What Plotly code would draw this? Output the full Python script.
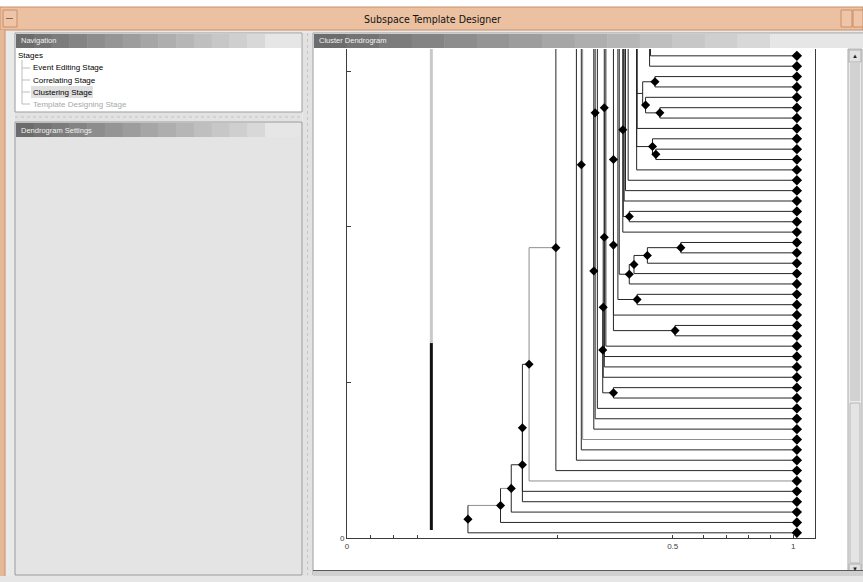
import plotly.graph_objects as go

# ---------------- dendrogram data ----------------
# Leaves sit at y = index + 0.5; indices >= 47 lie above the scrolled viewport.
LEAF_X = 1.008
N_VISIBLE = 47

# (node, child_a, child_b, merge position on the x axis)
merges = [
    ("A", 0, "B", 0.271),
    ("B", 1, "C", 0.344),
    ("C", 2, "D", 0.368),
    ("D", 3, "E", 0.393),
    ("E", 4, "F", 0.393),
    ("F", 5, "G", 0.408),
    ("G", 6, 49, 0.468),
    ("N7", 7, 140, 0.514),
    ("N8", 8, 63, 0.525),
    ("N9", 9, 138, 0.528),
    ("X41", 11, 70, 0.556),
    ("W", 10, "X41", 0.553),
    ("W2", "W", 136, 0.553),
    ("N12", 12, 134, 0.561),
    ("P1", 13, 14, 0.597),
    ("U", 17, 65, 0.5765),
    ("T", 16, "U", 0.5765),
    ("S", 15, "T", 0.574),
    ("R", "P1", "S", 0.573),
    ("N18", 18, 132, 0.580),
    ("P2", 19, 20, 0.735),
    ("N36", 21, 51, 0.597),
    ("N21", "P2", "N36", 0.597),
    ("P3", 22, 23, 0.650),
    ("NP3", "P3", 130, 0.607),
    ("P4", 27, 28, 0.748),
    ("P5", "P4", 26, 0.673),
    ("P6", "P5", 25, 0.643),
    ("P7", "P6", 24, 0.6325),
    ("NP7", "P7", 128, 0.610),
    ("P8", 30, 31, 0.6325),
    ("Q2", "P8", 67, 0.619),
    ("Q", 29, "Q2", 0.618),
    ("N32", 32, 126, 0.621),
    ("N33", 33, 124, 0.624),
    ("N34", 34, 122, 0.630),
    ("P10", 36, 37, 0.692),
    ("P9", 38, "P10", 0.6845),
    ("P12", 43, 44, 0.690),
    ("P13", 40, 41, 0.701),
    ("P14", 42, "P13", 0.669),
    ("P15", "P12", "P14", 0.6625),
    ("N35", 35, 120, 0.649),
    ("N35b", "P9", 118, 0.649),
    ("N39", 39, 116, 0.650),
    ("NP15", "P15", 114, 0.649),
    ("N45", 45, 112, 0.678),
    ("N46", 46, 110, 0.680),
]
# branches drawn in the lighter shade
light_nodes = {"F", "N9"}
light_links = {("A", "B"), ("B", "C")}
# nodes drawn without a diamond marker
unmarked_nodes = {"P15"}

# threshold marker
threshold_x = 0.189
threshold_low = [0.77, 18.8]      # solid part
threshold_high = [18.8, 60.0]     # faded part

# axis ticks
x_tickvals = [0, 0.0522, 0.1037, 0.1575, 0.4721, 0.7298, 0.7983, 0.8492, 0.9000, 0.9494, 1.0]
x_ticktext = ["0", "", "", "", "", "0.5", "", "", "", "", "1"]
y_tickvals = [0, 15, 30, 45]
y_ticktext = ["0", "", "", ""]
Y_TOP = 47.16

# navigation tree
nav_root = "Stages"
nav_items = ["Event Editing Stage", "Correlating Stage", "Clustering Stage", "Template Designing Stage"]
nav_selected = 2
nav_disabled = 3

# ---------------- geometry of the dendrogram ----------------
node_h = {m[0]: m[3] for m in merges}
node_children = {m[0]: (m[1], m[2]) for m in merges}
_ycache = {}


def ypos(c):
    if isinstance(c, int):
        return c + 0.5
    if c not in _ycache:
        a, b = node_children[c]
        _ycache[c] = (ypos(a) + ypos(b)) / 2
    return _ycache[c]


def xpos(c):
    return LEAF_X if isinstance(c, int) else node_h[c]


seg = {"dark": ([], []), "light": ([], [])}
for name, a, b, h in merges:
    ya, yb = ypos(a), ypos(b)
    tone = "light" if name in light_nodes else "dark"
    sx, sy = seg[tone]
    sx += [h, h, None]
    sy += [ya, yb, None]
    for c in (a, b):
        t = "light" if (name in light_nodes or (name, c) in light_links) else "dark"
        sx, sy = seg[t]
        sx += [h, xpos(c), None]
        sy += [ypos(c), ypos(c), None]

marked = [m for m in merges if m[0] not in unmarked_nodes]
node_x = [m[3] for m in marked]
node_y = [ypos(m[0]) for m in marked]
leaf_ids = list(range(N_VISIBLE))
leaf_y = [ypos(i) for i in leaf_ids]

fig = go.Figure()
fig.add_trace(go.Scatter(x=[threshold_x, threshold_x], y=threshold_high, mode="lines",
                         line=dict(color="#c9c9c9", width=3), hoverinfo="skip"))
fig.add_trace(go.Scatter(x=[threshold_x, threshold_x], y=threshold_low, mode="lines",
                         line=dict(color="#111111", width=3), hoverinfo="skip"))
fig.add_trace(go.Scatter(x=seg["light"][0], y=seg["light"][1], mode="lines",
                         line=dict(color="#8e8e8e", width=1), hoverinfo="skip"))
fig.add_trace(go.Scatter(x=seg["dark"][0], y=seg["dark"][1], mode="lines",
                         line=dict(color="#262626", width=1), hoverinfo="skip"))
fig.add_trace(go.Scatter(x=node_x, y=node_y, mode="markers",
                         marker=dict(symbol="diamond", size=7, color="#000000")))
fig.add_trace(go.Scatter(x=[LEAF_X] * len(leaf_ids), y=leaf_y, mode="markers",
                         marker=dict(symbol="diamond", size=8, color="#000000")))

# ---------------- window chrome (pixel layout) ----------------
W, H = 863, 582
PL, PR, PT, PB = 347, 815, 49, 538
GUI_FONT = "Liberation Sans, Arial, sans-serif"


def fx(px):
    return (px - PL) / (PR - PL)


def fy(py):
    return (PB - py) / (PB - PT)


shapes = []


def rect(x0, y0, x1, y1, fill, line=None, lw=1, layer="below"):
    shapes.append(dict(type="rect", xref="paper", yref="paper",
                       x0=fx(x0), x1=fx(x1), y0=fy(y1), y1=fy(y0),
                       fillcolor=fill, line=dict(color=line or fill, width=lw if line else 0),
                       layer=layer))


def hline(x0, x1, y, color, w=1, dash=None):
    shapes.append(dict(type="line", xref="paper", yref="paper",
                       x0=fx(x0), x1=fx(x1), y0=fy(y), y1=fy(y),
                       line=dict(color=color, width=w, dash=dash), layer="below"))


def vline(x, y0, y1, color, w=1, dash=None):
    shapes.append(dict(type="line", xref="paper", yref="paper",
                       x0=fx(x), x1=fx(x), y0=fy(y0), y1=fy(y1),
                       line=dict(color=color, width=w, dash=dash), layer="below"))


annots = []


def text(x, y, s, size=8, color="#000000", family=GUI_FONT, anchor="left"):
    annots.append(dict(xref="paper", yref="paper", x=fx(x), y=fy(y), text=s, showarrow=False,
                       xanchor=anchor, yanchor="middle",
                       font=dict(size=size, color=color, family=family)))


def header(x0, x1, grad_end, y0, y1, label):
    steps = 14
    span = grad_end - x0
    for k in range(steps):
        g = int(0x6c + (0xd8 - 0x6c) * k / (steps - 1))
        c = "#%02x%02x%02x" % (g, g, g)
        rect(x0 + span * k / steps, y0, x0 + span * (k + 1) / steps + 0.5, y1, c)
    rect(grad_end, y0, x1, y1, "#e6e6e6")
    text(x0 + 3, (y0 + y1) / 2, label, size=7.5, color="#f2f2f2")


# window background
rect(0, 0, W, H, "#e9e9e9")
rect(0, 0, W, 7, "#ffffff")
# title bar and frame
rect(0, 7, W, 30, "#ecc1a1", "#c98e69")
rect(0, 30, 5, H, "#e6b996")
vline(5, 30, H, "#c9906c")
rect(3, 10, 17, 27, "#eec5a8", "#c98e69")
hline(6, 13, 18.5, "#8a6a55", 1)
rect(841, 10, 852, 27, "#eec5a8", "#c98e69")
rect(853, 10, W, 27, "#eec5a8", "#c98e69")
text(432, 19, "Subspace Template Designer", size=10.5, color="#111111",
     family="DejaVu Sans Condensed, Liberation Sans Narrow, Liberation Sans, sans-serif", anchor="center")

# navigation panel
rect(15, 33, 302, 112, "#ffffff", "#9a9a9a")
header(16, 301, 265, 34, 48, "Navigation")
text(16, 56, nav_root, size=8)
vline(22, 60, 104, "#bdbdbd", 1)
for k, item in enumerate(nav_items):
    yy = 68 + 12 * k
    hline(22, 30, yy, "#bdbdbd", 1)
    if k == nav_selected:
        rect(31, yy - 6, 93, yy + 6, "#e0e0e0")
    text(31, yy, item, size=8, color="#a8a8a8" if k == nav_disabled else "#000000")

# splitters
rect(15, 113, 302, 121, "#e2e2e2")
hline(15, 302, 117, "#c4c4c4", 1, "dot")
rect(303, 33, 312, H, "#e2e2e2")
vline(307.5, 33, 575, "#c4c4c4", 1, "dot")

# dendrogram settings panel
rect(15, 122, 302, 575, "#e4e4e4", "#9a9a9a")
header(16, 301, 265, 123, 137, "Dendrogram Settings")

# cluster dendrogram panel
rect(313, 33, W + 2, 575, "#ffffff", "#9a9a9a")
header(314, W, 770, 34, 48, "Cluster Dendrogram")
rect(315, 49, 847, 569, "#ffffff")
# scrollbar
rect(848, 49, 862, 574, "#ececec", "#a8a8a8")
rect(849, 50, 861, 62, "#e2e2e2", "#b0b0b0")
rect(850, 63, 860, 401, "#d2d2d2")
rect(850, 403, 860, 563, "#e4e4e4", "#b8b8b8")
rect(849, 564, 861, 574, "#e2e2e2", "#b0b0b0")
text(855, 56, "▲", size=6, color="#202020", anchor="center")
text(855, 569, "▼", size=6, color="#202020", anchor="center")
# bottom edge of panel
rect(313, 570, W, 576, "#d0d0d0")
hline(313, W, 570.5, "#5a5a5a")
rect(0, 576, W, H, "#e6e6e6")

fig.update_layout(
    width=W, height=H, autosize=False,
    margin=dict(l=PL, r=W - PR, t=PT, b=H - PB, pad=0),
    paper_bgcolor="#e9e9e9", plot_bgcolor="rgba(0,0,0,0)",
    showlegend=False, shapes=shapes, annotations=annots,
    font=dict(family=GUI_FONT, size=8, color="#404040"),
)
fig.update_xaxes(range=[0, (PR - PL) / 446.3], showgrid=False, zeroline=False,
                 showline=True, linecolor="#3c3c3c", linewidth=1,
                 ticks="inside", ticklen=3, tickcolor="#3c3c3c",
                 tickvals=x_tickvals, ticktext=x_ticktext, tickfont=dict(size=8, color="#404040"))
fig.update_yaxes(range=[0, Y_TOP], showgrid=False, zeroline=False,
                 showline=True, linecolor="#3c3c3c", linewidth=1, mirror=True,
                 ticks="inside", ticklen=4, tickcolor="#3c3c3c",
                 tickvals=y_tickvals, ticktext=y_ticktext, tickfont=dict(size=8, color="#404040"))

fig.write_html("out.html")
